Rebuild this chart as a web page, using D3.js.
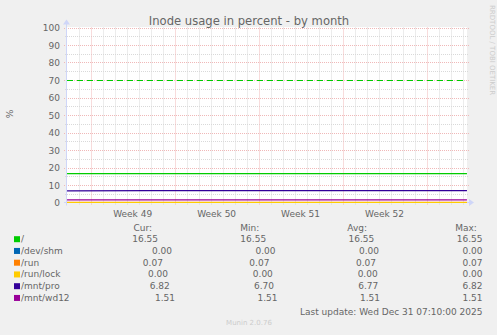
<!DOCTYPE html>
<meta charset="utf-8">
<style>
body { margin: 0; background: #f0f0f0; }
svg { display: block; font-family: "DejaVu Sans", sans-serif; }
text { fill: #666; white-space: pre; }
</style>
<svg width="497" height="335"></svg>
<script src="https://cdn.jsdelivr.net/npm/d3@7"></script>
<script>
var sampleTimes = ["2025-11-29T00:40", "2025-12-06T00:00", "2025-12-13T00:00", "2025-12-20T00:00", "2025-12-27T00:00", "2026-01-01T08:55"];
var names  = ["/", "/dev/shm", "/run", "/run/lock", "/mnt/pro", "/mnt/wd12"];
var colors = ["#00cc00", "#0066b3", "#ff8000", "#ffcc00", "#330099", "#990099"];
var seriesValues = [
  [16.55, 16.55, 16.55, 16.55, 16.55, 16.55],
  [0.00, 0.00, 0.00, 0.00, 0.00, 0.00],
  [0.07, 0.07, 0.07, 0.07, 0.07, 0.07],
  [0.00, 0.00, 0.00, 0.00, 0.00, 0.00],
  [6.70, 6.73, 6.75, 6.78, 6.80, 6.82],
  [1.51, 1.51, 1.51, 1.51, 1.51, 1.51]
];
var warning = 70;
var curVals = [16.55, 0.00, 0.07, 0.00, 6.82, 1.51];
var minVals = [16.55, 0.00, 0.07, 0.00, 6.70, 1.51];
var avgVals = [16.55, 0.00, 0.07, 0.00, 6.77, 1.51];
var maxVals = [16.55, 0.00, 0.07, 0.00, 6.82, 1.51];
var headers = ["Cur:", "Min:", "Avg:", "Max:  "];
var yTicks = [0, 10, 20, 30, 40, 50, 60, 70, 80, 90, 100];
var lastUpdate = "Last update: Wed Dec 31 07:10:00 2025";

var svg = d3.select("svg");
var pL = 67, pR = 467, pT = 27.5, pB = 202.5;

var x = d3.scaleTime()
    .domain([new Date(2025, 10, 29, 0, 36), new Date(2026, 0, 1, 9, 0)])
    .range([pL, pR]);
var y = d3.scaleLinear().domain([0, 100]).range([pB, pT]);
var parse = d3.isoParse;

svg.append("rect").attr("x", pL).attr("y", pT - 0.5)
    .attr("width", pR - pL).attr("height", pB - pT + 0.5)
    .attr("fill", "#fff");

// minor grid
var days = d3.timeDay.range(x.domain()[0], x.domain()[1]);
var g = svg.append("g");
g.selectAll(".vmin").data(days.filter(function(d) { return d.getDay() != 1; }))
  .enter().append("line")
    .attr("x1", function(d) { return Math.round(x(d)) + 0.5; })
    .attr("x2", function(d) { return Math.round(x(d)) + 0.5; })
    .attr("y1", pT).attr("y2", pB + 2)
    .attr("stroke", "#d9d9d9").attr("stroke-dasharray", "1,1");
g.selectAll(".hmin").data(d3.range(5, 100, 10))
  .enter().append("line")
    .attr("x1", pL - 2).attr("x2", pR + 2)
    .attr("y1", function(d) { return Math.round(y(d)) + 0.5; })
    .attr("y2", function(d) { return Math.round(y(d)) + 0.5; })
    .attr("stroke", "#d9d9d9").attr("stroke-dasharray", "1,1");

// major grid
var mondays = d3.timeMonday.range(x.domain()[0], x.domain()[1]);
g.selectAll(".vmaj").data(mondays)
  .enter().append("line")
    .attr("x1", function(d) { return Math.round(x(d)) + 0.5; })
    .attr("x2", function(d) { return Math.round(x(d)) + 0.5; })
    .attr("y1", pT).attr("y2", pB + 3)
    .attr("stroke", "#f0b8b8").attr("stroke-dasharray", "1,1");
g.selectAll(".hmaj").data(yTicks.slice(1))
  .enter().append("line")
    .attr("x1", pL - 3).attr("x2", pR + 2)
    .attr("y1", function(d) { return Math.round(y(d)) + 0.5; })
    .attr("y2", function(d) { return Math.round(y(d)) + 0.5; })
    .attr("stroke", "#f0b8b8").attr("stroke-dasharray", "1,1");

// axes
svg.append("line").attr("x1", pL - 0.5).attr("x2", pL - 0.5)
    .attr("y1", pB + 3).attr("y2", pT - 4)
    .attr("stroke", "#cfd6f8");
svg.append("path").attr("d", "M" + (pL - 4) + "," + (pT - 3) + "L" + (pL - 0.5) + "," + (pT - 8) + "L" + (pL + 3) + "," + (pT - 3) + "Z")
    .attr("fill", "#cfd6f8");
svg.append("line").attr("x1", pL - 3).attr("x2", pR + 3)
    .attr("y1", pB).attr("y2", pB)
    .attr("stroke", "#cfd6f8");
svg.append("path").attr("d", "M" + (pR + 2) + "," + (pB - 3.5) + "L" + (pR + 7) + "," + pB + "L" + (pR + 2) + "," + (pB + 3.5) + "Z")
    .attr("fill", "#cfd6f8");

// y labels
svg.selectAll(".ylab").data(yTicks)
  .enter().append("text")
    .attr("x", 60).attr("y", function(d) { return y(d) + 3.5; })
    .attr("text-anchor", "end")
    .style("font-size", "9px")
    .text(function(d) { return d; });

// week labels
svg.selectAll(".xlab").data(mondays.slice(0, -1))
  .enter().append("text")
    .attr("x", function(d) { return (x(d) + x(d3.timeDay.offset(d, 7))) / 2; })
    .attr("y", 216.5)
    .attr("text-anchor", "middle")
    .style("font-size", "9px")
    .text(d3.timeFormat("Week %V"));

// warning line
svg.append("line")
    .attr("x1", pL).attr("x2", pR)
    .attr("y1", Math.round(y(warning)) + 0.5).attr("y2", Math.round(y(warning)) + 0.5)
    .attr("stroke", "#00cc00").attr("stroke-width", 1.2)
    .attr("stroke-dasharray", "6,4");

// series
var line = d3.line()
    .x(function(d) { return x(parse(d.t)); })
    .y(function(d) { return y(d.v); });
seriesValues.forEach(function(vals, i) {
  svg.append("path")
      .datum(vals.map(function(v, j) { return {t: sampleTimes[j], v: v}; }))
      .attr("d", line)
      .attr("fill", "none")
      .attr("stroke", colors[i])
      .attr("stroke-width", 1.2);
});

// title and side texts
svg.append("text").attr("x", 249).attr("y", 24.5)
    .attr("text-anchor", "middle").style("font-size", "11.6px")
    .text("Inode usage in percent - by month");
svg.append("text").attr("transform", "translate(13,114) rotate(-90)")
    .attr("text-anchor", "middle").style("font-size", "9px").text("%");
svg.append("text").attr("transform", "translate(490,5) rotate(90)")
    .style("font-size", "7px").style("fill", "#cccccc")
    .text("RRDTOOL / TOBI OETIKER");
svg.append("text").attr("x", 249).attr("y", 325)
    .attr("text-anchor", "middle").style("font-size", "7px").style("fill", "#cccccc")
    .text("Munin 2.0.76");

// legend, justified like rrdtool's \j
var fmt = d3.format(".2f");
function pad(s, n) { while (s.length < n) s = " " + s; return s; }
function justify(items, x0, x1, yy) {
  var nodes = items.map(function(s) {
    return svg.append("text").attr("y", yy).style("font-size", "9px").text(s);
  });
  var w = nodes.map(function(n) { return n.node().getComputedTextLength(); });
  var gap = (x1 - x0 - d3.sum(w)) / (items.length - 1);
  var cx = x0;
  nodes.forEach(function(n, i) { n.attr("x", cx); cx += w[i] + gap; });
}
var legendRight = 482.5;
justify(["           "].concat(headers), 14, legendRight, 230.5);
names.forEach(function(name, i) {
  var yy = 242.2 + i * 11.75;
  svg.append("rect").attr("x", 14).attr("y", yy - 6).attr("width", 6).attr("height", 6)
      .attr("fill", colors[i]);
  var label = name;
  while (label.length < 10) label += " ";
  justify([label, pad(fmt(curVals[i]), 6), pad(fmt(minVals[i]), 6),
           pad(fmt(avgVals[i]), 6), pad(fmt(maxVals[i]), 6)], 21, legendRight, yy);
});
svg.append("text").attr("x", legendRight).attr("y", 314.8)
    .attr("text-anchor", "end").style("font-size", "9px")
    .text(lastUpdate);
</script>
